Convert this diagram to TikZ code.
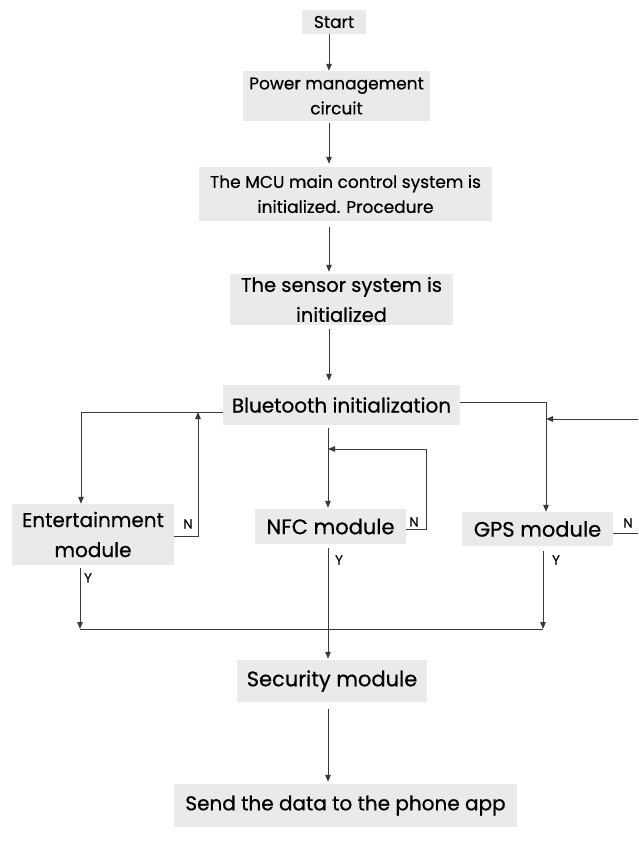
\documentclass[tikz,border=0pt]{standalone}
\usepackage{fontspec}
\setmainfont{Poppins}[FakeBold=0.6]
\usetikzlibrary{arrows.meta}
\definecolor{boxgray}{HTML}{EAEAEA}
\definecolor{linegray}{HTML}{3A3A3A}
\tikzset{
  box/.style={fill=boxgray, inner sep=0pt, align=center, text=black},
  arr/.style={draw=linegray, line width=1pt, -{Triangle[length=7pt,width=5.5pt]}},
  ln/.style={draw=linegray, line width=1pt},
  lbl/.style={inner sep=0pt, font=\fontsize{13}{15}\selectfont, text=black}
}
\begin{document}
\begin{tikzpicture}[x=1pt,y=-1pt]
\useasboundingbox (0,0) rectangle (638,852);
\node[box, minimum width=64, minimum height=24, font=\fontsize{17}{20}\selectfont] (start) at (334,22) {Start};
\node[box, minimum width=187, minimum height=50, font=\fontsize{17}{25}\selectfont] (power) at (336.5,96) {Power management\\circuit};
\node[box, minimum width=293, minimum height=54, font=\fontsize{17}{25}\selectfont] (mcu) at (345.5,194) {The MCU main control system is\\initialized. Procedure};
\node[box, minimum width=223, minimum height=51, font=\fontsize{19.5}{30}\selectfont] (sensor) at (341.5,299.5) {The sensor system is\\initialized};
\node[box, minimum width=237, minimum height=40, font=\fontsize{20}{24}\selectfont] (bt) at (341.5,405) {Bluetooth initialization};
\node[box, minimum width=162, minimum height=61, font=\fontsize{20}{30}\selectfont] (ent) at (93,534.5) {Entertainment\\module};
\node[box, minimum width=151, minimum height=35, font=\fontsize{21}{24}\selectfont] (nfc) at (330.5,526.5) {NFC module};
\node[box, minimum width=151, minimum height=34, font=\fontsize{21}{24}\selectfont] (gps) at (537.5,529) {GPS module};
\node[box, minimum width=190, minimum height=42, font=\fontsize{21}{24}\selectfont] (sec) at (332,681) {Security module};
\node[box, minimum width=343, minimum height=43, font=\fontsize{20}{24}\selectfont] (send) at (345.5,805.5) {Send the data to the phone app};

\coordinate (cm) at (329,0);
\draw[arr] (start.south -| cm) -- (power.north -| cm);
\draw[arr, shorten <=2pt, shorten >=3pt] (power.south -| cm) -- (mcu.north -| cm);
\draw[arr, shorten <=6pt, shorten >=2pt] (mcu.south -| cm) -- (sensor.north -| cm);
\draw[arr, shorten <=4pt, shorten >=4pt] (sensor.south -| cm) -- (bt.north -| cm);

\coordinate (bl) at (81,412);
\draw[arr] (bt.west |- bl) -- (bl) -- (ent.north -| bl);
\coordinate (en) at (198,536);
\draw[arr] (ent.east |- en) -- (en) -- (en |- bl);
\coordinate (ey) at (80,629);
\draw[arr, shorten <=3pt] (ent.south -| ey) -- (ey);
\coordinate (gy) at (543,629);
\draw[ln] (ey) -- (gy);
\draw[arr, shorten <=5pt] (gps.south -| gy) -- (gy);

\coordinate (nc) at (328,449);
\draw[arr, shorten <=3pt, shorten >=1pt] (bt.south -| nc) -- (nfc.north -| nc);
\coordinate (nn) at (426,529);
\draw[arr] (nfc.east |- nn) -- (nn) -- (nn |- nc) -- (nc);
\draw[arr, shorten <=4pt, shorten >=1pt] (nfc.south -| nc) -- (sec.north -| nc);

\coordinate (br) at (546,402);
\draw[arr] (bt.east |- br) -- (br) -- (gps.north -| br);
\coordinate (ri) at (638,419);
\draw[arr] (ri) -- (ri -| br);
\coordinate (gn) at (638,533);
\draw[ln] (gps.east |- gn) -- (gn);

\draw[arr, shorten <=7pt, shorten >=2pt] (sec.south -| nc) -- (send.north -| nc);

\node[lbl] (n1) at (188,524) {N};
\node[lbl] (n2) at (414,522) {N};
\node[lbl] (n3) at (628,523) {N};
\node[lbl] (y1) at (88,578) {Y};
\node[lbl] (y2) at (339,560) {Y};
\node[lbl] (y3) at (556,560) {Y};
\end{tikzpicture}
\end{document}
